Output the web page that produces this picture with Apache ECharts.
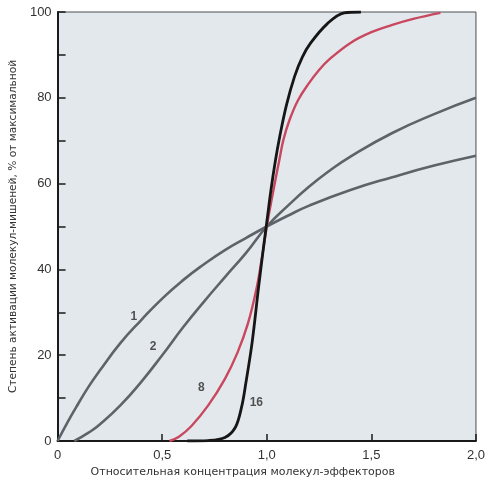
<!DOCTYPE html>
<html>
<head>
<meta charset="utf-8">
<script src="https://cdn.jsdelivr.net/npm/echarts@6/dist/echarts.min.js"></script>
<style>html,body{margin:0;padding:0;background:#fff;}#c{width:488px;height:485px;}</style>
</head>
<body>
<div id="c"></div>
<script>
var xTicks = [0, 0.5, 1.0, 1.5, 2.0];
var yTicks = [0, 20, 40, 60, 80, 100];

var curve1 = [[0,0],[0.05,4.6],[0.1,8.8],[0.15,12.8],[0.2,16.3],[0.3,22.8],[0.4,28.2],[0.5,33.2],[0.6,37.5],[0.7,41.2],[0.8,44.5],[0.9,47.3],[1.0,50],[1.1,52.5],[1.2,54.8],[1.4,58.5],[1.6,61.5],[1.8,64.2],[2.0,66.5]];
var curve2 = [[0.08,0],[0.15,2],[0.2,3.8],[0.3,8.3],[0.4,13.8],[0.5,20],[0.6,26.5],[0.7,32.5],[0.8,38.2],[0.9,43.8],[1.0,50],[1.1,54.8],[1.2,59.2],[1.3,63],[1.4,66.3],[1.6,71.8],[1.8,76.2],[2.0,80]];
var curve8 = [[0.535,0],[0.58,1],[0.64,3.5],[0.72,8.3],[0.8,14.5],[0.86,20.6],[0.91,27.4],[0.95,35.3],[0.976,42.5],[1.0,50],[1.03,58],[1.06,65.5],[1.08,70.3],[1.11,75],[1.15,79.5],[1.2,83.3],[1.25,86.5],[1.3,89],[1.4,92.8],[1.5,95.3],[1.6,97],[1.7,98.4],[1.83,99.8]];
var curve16 = [[0.62,0],[0.72,0.1],[0.8,0.8],[0.85,3.2],[0.88,8],[0.9,13.5],[0.93,23],[0.96,35.5],[0.984,45],[1.0,51],[1.02,58.5],[1.04,65],[1.062,71],[1.094,78.3],[1.133,85],[1.17,89.5],[1.21,92.8],[1.29,97.3],[1.37,99.8],[1.45,100]];
var curveLabels = [{text:'1', x:0.365, y:29}, {text:'2', x:0.457, y:22}, {text:'8', x:0.687, y:12.4}, {text:'16', x:0.95, y:8.9}];

var xName = 'Относительная концентрация молекул-эффекторов';
var yName = 'Степень активации молекул-мишеней, % от максимальной';

function lineSeries(data, color, w, sm) {
  return {type:'line', data:data, smooth:sm, showSymbol:false, symbol:'none',
    lineStyle:{color:color, width:w}, z:3, silent:true, clip:true};
}

var chart = echarts.init(document.getElementById('c'), null, {renderer:'canvas'});
chart.setOption({
  animation:false,
  backgroundColor:'#ffffff',
  grid:{left:57, right:9, top:12, bottom:44, show:true, backgroundColor:'#e2e8ec', borderColor:'#4a4e52', borderWidth:1},
  xAxis:{type:'value', min:0, max:2, interval:0.5,
    name:xName, nameLocation:'middle', nameGap:23,
    nameTextStyle:{fontFamily:'DejaVu Sans', fontSize:11, color:'#333', padding:[0,48,0,0]},
    axisLine:{show:true, onZero:false, lineStyle:{color:'#1a1a1a', width:2}},
    axisTick:{show:true, inside:true, length:7, lineStyle:{color:'#1a1a1a', width:1.5}},
    axisLabel:{fontFamily:'Liberation Sans', fontSize:13, color:'#333', margin:8,
      formatter:function(v){ return v===0 ? '0' : v.toFixed(1).replace('.', ','); }},
    splitLine:{show:false}},
  yAxis:{type:'value', min:0, max:100, interval:20,
    name:yName, nameLocation:'middle', nameGap:33, nameRotate:90,
    nameTextStyle:{fontFamily:'DejaVu Sans', fontSize:10.6, color:'#333'},
    axisLine:{show:true, lineStyle:{color:'#1a1a1a', width:2}},
    axisTick:{show:true, inside:true, length:8, lineStyle:{color:'#1a1a1a', width:1.5}},
    minorTick:{show:true, splitNumber:2, length:8, lineStyle:{color:'#1a1a1a', width:1.5}},
    axisLabel:{fontFamily:'Liberation Sans', fontSize:13, color:'#333', margin:6},
    splitLine:{show:false}},
  series:[
    lineSeries(curve1, '#5d6369', 2.6, 0.5),
    lineSeries(curve2, '#5d6369', 2.6, 0.5),
    lineSeries(curve8, '#c9475f', 2.4, 0.4),
    lineSeries(curve16, '#161616', 2.8, 0.35),
    {type:'scatter', symbolSize:0, silent:true, z:5,
      data:curveLabels.map(function(d){ return {value:[d.x, d.y], name:d.text}; }),
      label:{show:true, position:'inside', formatter:function(p){return p.name;},
        fontFamily:'Liberation Sans', fontSize:12, fontWeight:'bold', color:'#2a2a2a'}}
  ]
});
</script>
</body>
</html>
